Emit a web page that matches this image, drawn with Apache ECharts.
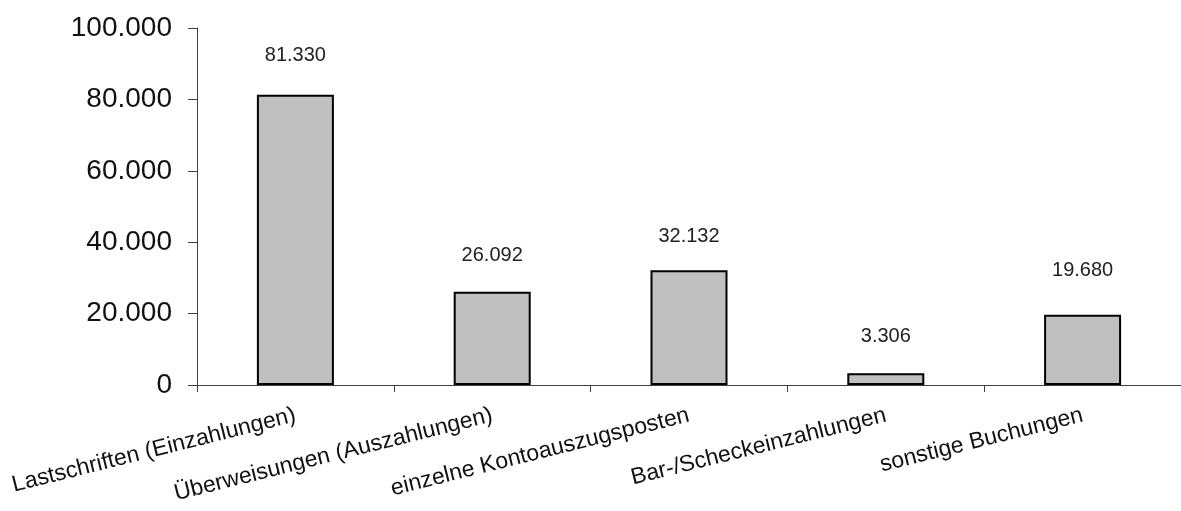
<!DOCTYPE html>
<html>
<head>
<meta charset="utf-8">
<script src="https://cdn.jsdelivr.net/npm/echarts@6/dist/echarts.min.js"></script>
<style>
  html, body { margin: 0; padding: 0; background: #fff; }
  #chart { width: 1181px; height: 511px; }
</style>
</head>
<body>
<div id="chart"></div>
<script>
// Buchungsarten und Anzahl der Buchungen
const categories = [
  'Lastschriften (Einzahlungen)',
  'Überweisungen (Auszahlungen)',
  'einzelne Kontoauszugsposten',
  'Bar-/Scheckeinzahlungen',
  'sonstige Buchungen'
];
const values = [81330, 26092, 32132, 3306, 19680];
const yTicks = [0, 20000, 40000, 60000, 80000, 100000];

// gap between each value label and its bar
const labelDistances = [29, 26, 24, 27, 34];

// German grouping: 81330 -> "81.330"
function fmt(v) {
  return String(Math.round(v)).replace(/\B(?=(\d{3})+(?!\d))/g, '.');
}

const font = 'Liberation Sans, Arial, sans-serif';
const chart = echarts.init(document.getElementById('chart'), null, { renderer: 'canvas' });

chart.setOption({
  animation: false,
  backgroundColor: '#ffffff',
  grid: { left: 197, top: 28, width: 985, height: 357, containLabel: false },
  xAxis: {
    type: 'category',
    data: categories,
    axisLine: { show: true, lineStyle: { color: '#404040', width: 1 } },
    axisTick: { show: true, length: 7, lineStyle: { color: '#404040', width: 1 } },
    axisLabel: {
      interval: 0,
      rotate: 14,
      margin: 30,
      color: '#111',
      fontFamily: font,
      fontSize: 23
    },
    splitLine: { show: false }
  },
  yAxis: {
    type: 'value',
    min: yTicks[0],
    max: yTicks[yTicks.length - 1],
    interval: yTicks[1] - yTicks[0],
    axisLine: { show: true, lineStyle: { color: '#404040', width: 1 } },
    axisTick: { show: true, length: 9, lineStyle: { color: '#404040', width: 1 } },
    axisLabel: {
      margin: 25,
      color: '#111',
      fontFamily: font,
      fontSize: 28,
      formatter: fmt
    },
    splitLine: { show: false }
  },
  series: [{
    type: 'bar',
    barWidth: 77,
    data: values.map((v, i) => ({
      value: v,
      label: { distance: labelDistances[i] }
    })),
    itemStyle: { color: '#c0c0c0', borderColor: '#000', borderWidth: 2 },
    label: {
      show: true,
      position: 'top',
      color: '#222',
      fontFamily: font,
      fontSize: 20,
      formatter: p => fmt(p.value)
    }
  }]
});
</script>
</body>
</html>
